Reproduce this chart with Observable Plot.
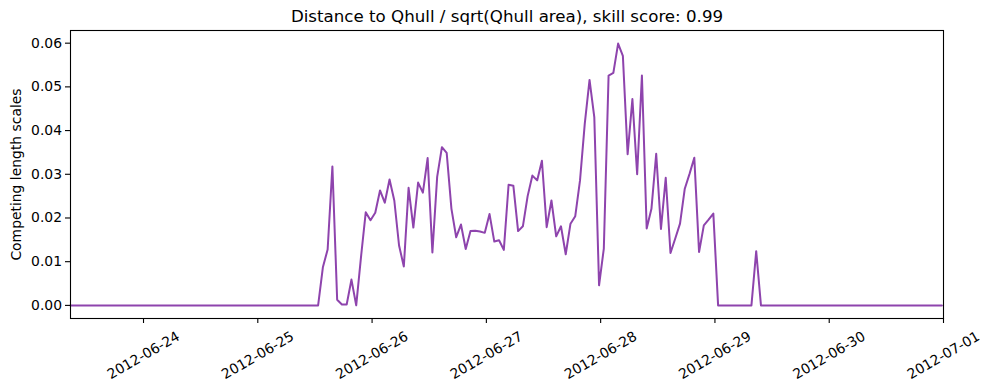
<!DOCTYPE html>
<html>
<head>
<meta charset="utf-8">
<script src="https://cdn.jsdelivr.net/npm/d3@7"></script>
<script src="https://cdn.jsdelivr.net/npm/@observablehq/plot@0.6"></script>
<style>
  html, body { margin: 0; padding: 0; background: #fff; }
  #chart svg { display: block; }
</style>
</head>
<body>
<div id="chart"></div>
<script>
// Hourly values (at HH:40 UTC) for each day
const start = "2012-06-23T08:40:00Z";
const day23 = [0,0,0,0,0,0,0,0,0,0,0,0,0,0,0,0];
const day24 = [0,0,0,0,0,0,0,0,0,0,0,0,0,0,0,0,0,0,0,0,0,0,0,0];
const day25 = [0,0,0,0,0,0,0,0,0,0,0,0,0,0.0087,0.0128,0.0318,0.0013,0.0002,0.0002,0.0059,0,0.0110,0.0213,0.0195];
const day26 = [0.0212,0.0263,0.0235,0.0288,0.0240,0.0137,0.0089,0.0269,0.0178,0.0281,0.0258,0.0337,0.0121,0.0294,0.0362,0.0349,0.0221,0.0156,0.0185,0.0129,0.0170,0.0171,0.0169,0.0166];
const day27 = [0.0209,0.0146,0.0149,0.0127,0.0276,0.0274,0.0170,0.0181,0.0250,0.0297,0.0286,0.0331,0.0179,0.0240,0.0158,0.0181,0.0117,0.0187,0.0204,0.0286,0.0416,0.0516,0.0431,0.0046];
const day28 = [0.0130,0.0526,0.0532,0.0599,0.0571,0.0346,0.0472,0.0300,0.0526,0.0176,0.0221,0.0347,0.0175,0.0292,0.0120,0.0153,0.0187,0.0267,0.0301,0.0338,0.0122,0.0183,0.0196,0.0210];
const day29 = [0,0,0,0,0,0,0,0,0.0124,0,0,0,0,0,0,0,0,0,0,0,0,0,0,0];
const day30 = [0,0,0,0,0,0,0,0,0,0,0,0,0,0,0,0,0,0,0,0,0,0,0,0];

const xTickLabels = ["2012-06-24","2012-06-25","2012-06-26","2012-06-27","2012-06-28","2012-06-29","2012-06-30","2012-07-01"];
const yTicks = [0, 0.01, 0.02, 0.03, 0.04, 0.05, 0.06];
const titleText = "Distance to Qhull / sqrt(Qhull area), skill score: 0.99";
const yLabel = "Competing length scales";

const values = [...day23, ...day24, ...day25, ...day26, ...day27, ...day28, ...day29, ...day30];
const t0 = new Date(start);
const data = values.map((v, i) => ({t: d3.utcHour.offset(t0, i), v}));
const xTicks = xTickLabels.map(s => new Date(s + "T00:00:00Z"));

const chart = Plot.plot({
  width: 990,
  height: 390,
  marginLeft: 70,
  marginRight: 47,
  marginTop: 30,
  marginBottom: 72,
  style: {fontFamily: "DejaVu Sans", fontSize: "13.9px", color: "black", background: "white"},
  x: {type: "utc", domain: [t0, new Date("2012-07-01T00:00:00Z")]},
  y: {domain: [-0.003, 0.0629]},
  marks: [
    Plot.line(data, {x: "t", y: "v", stroke: "#8e44ad", strokeWidth: 2}),
    Plot.frame({stroke: "black", strokeWidth: 1.1}),
    Plot.axisY({ticks: yTicks, tickFormat: d3.format(".2f"), tickSize: 5, tickPadding: 3.5, label: null, strokeWidth: 1.1}),
    Plot.axisX({ticks: xTicks, tickSize: 5, fill: null, label: null, strokeWidth: 1.1}),
    Plot.text(xTicks, {x: d => d, text: (d, i) => xTickLabels[i], frameAnchor: "bottom", rotate: -30, textAnchor: "middle", lineAnchor: "middle", dy: 37, fontSize: 13.9}),
    Plot.text([titleText], {frameAnchor: "top", text: d => d, dy: -14, lineAnchor: "middle", fontSize: 16.67}),
    Plot.text([yLabel], {frameAnchor: "left", text: d => d, dx: -54, rotate: -90, textAnchor: "middle", lineAnchor: "middle", fontSize: 13.9})
  ]
});
document.getElementById("chart").appendChild(chart);
</script>
</body>
</html>
